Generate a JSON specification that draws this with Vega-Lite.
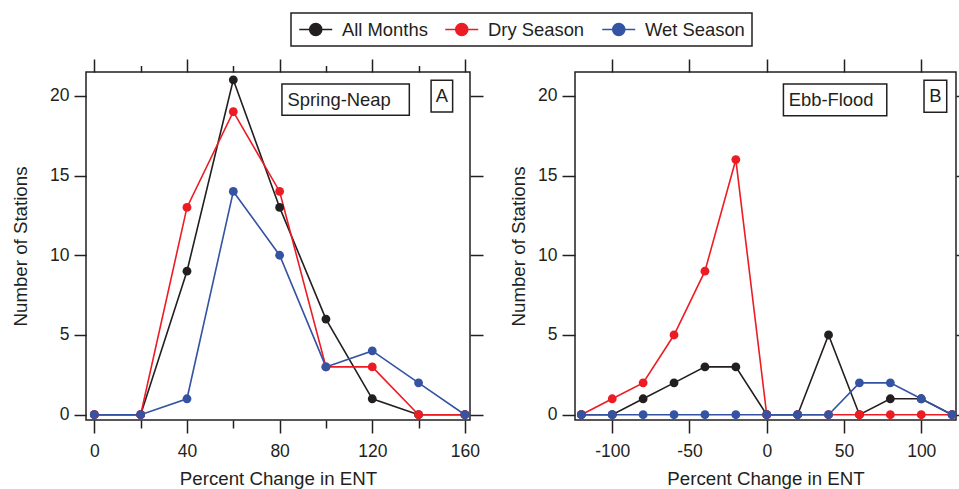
{
  "$schema": "https://vega.github.io/schema/vega-lite/v6.json",
  "padding": {"left": 10, "top": 12, "right": 0, "bottom": 0},
  "config": {
    "font": "Liberation Sans",
    "view": {"stroke": "#231f20", "strokeWidth": 1.5},
    "axis": {"domain": false, "grid": false, "tickColor": "#231f20", "tickWidth": 1.5, "labelColor": "#231f20", "labelFontSize": 17.5, "labelFont": "Liberation Sans", "titleFont": "Liberation Sans", "titleFontSize": 18.7, "titleFontWeight": "normal", "titleColor": "#231f20", "labelFlush": false, "labelOverlap": false},
    "legend": {"orient": "none", "legendX": 205, "legendY": -59, "direction": "horizontal", "columns": 3, "title": null, "labelFont": "Liberation Sans", "labelFontSize": 18.4, "labelColor": "#231f20", "labelOffset": 25, "columnPadding": 14, "padding": 7, "strokeColor": "#231f20", "fillColor": "white", "symbolType": "M-1,0H3M0.27,0A0.73,0.73,0,1,1,1.73,0A0.73,0.73,0,1,1,0.27,0Z", "symbolSize": 272, "symbolStrokeWidth": 1.6},
    "text": {"font": "Liberation Sans"}
  },
  "datasets": {
    "sn": [
      {"series": "All Months", "pct": 0, "n": 0}, {"series": "All Months", "pct": 20, "n": 0}, {"series": "All Months", "pct": 40, "n": 9}, {"series": "All Months", "pct": 60, "n": 21}, {"series": "All Months", "pct": 80, "n": 13}, {"series": "All Months", "pct": 100, "n": 6}, {"series": "All Months", "pct": 120, "n": 1}, {"series": "All Months", "pct": 140, "n": 0}, {"series": "All Months", "pct": 160, "n": 0},
      {"series": "Dry Season", "pct": 0, "n": 0}, {"series": "Dry Season", "pct": 20, "n": 0}, {"series": "Dry Season", "pct": 40, "n": 13}, {"series": "Dry Season", "pct": 60, "n": 19}, {"series": "Dry Season", "pct": 80, "n": 14}, {"series": "Dry Season", "pct": 100, "n": 3}, {"series": "Dry Season", "pct": 120, "n": 3}, {"series": "Dry Season", "pct": 140, "n": 0}, {"series": "Dry Season", "pct": 160, "n": 0},
      {"series": "Wet Season", "pct": 0, "n": 0}, {"series": "Wet Season", "pct": 20, "n": 0}, {"series": "Wet Season", "pct": 40, "n": 1}, {"series": "Wet Season", "pct": 60, "n": 14}, {"series": "Wet Season", "pct": 80, "n": 10}, {"series": "Wet Season", "pct": 100, "n": 3}, {"series": "Wet Season", "pct": 120, "n": 4}, {"series": "Wet Season", "pct": 140, "n": 2}, {"series": "Wet Season", "pct": 160, "n": 0}
    ],
    "ef": [
      {"series": "All Months", "pct": -120, "n": 0}, {"series": "All Months", "pct": -100, "n": 0}, {"series": "All Months", "pct": -80, "n": 1}, {"series": "All Months", "pct": -60, "n": 2}, {"series": "All Months", "pct": -40, "n": 3}, {"series": "All Months", "pct": -20, "n": 3}, {"series": "All Months", "pct": 0, "n": 0}, {"series": "All Months", "pct": 20, "n": 0}, {"series": "All Months", "pct": 40, "n": 5}, {"series": "All Months", "pct": 60, "n": 0}, {"series": "All Months", "pct": 80, "n": 1}, {"series": "All Months", "pct": 100, "n": 1}, {"series": "All Months", "pct": 120, "n": 0},
      {"series": "Dry Season", "pct": -120, "n": 0}, {"series": "Dry Season", "pct": -100, "n": 1}, {"series": "Dry Season", "pct": -80, "n": 2}, {"series": "Dry Season", "pct": -60, "n": 5}, {"series": "Dry Season", "pct": -40, "n": 9}, {"series": "Dry Season", "pct": -20, "n": 16}, {"series": "Dry Season", "pct": 0, "n": 0}, {"series": "Dry Season", "pct": 20, "n": 0}, {"series": "Dry Season", "pct": 40, "n": 0}, {"series": "Dry Season", "pct": 60, "n": 0}, {"series": "Dry Season", "pct": 80, "n": 0}, {"series": "Dry Season", "pct": 100, "n": 0}, {"series": "Dry Season", "pct": 120, "n": 0},
      {"series": "Wet Season", "pct": -120, "n": 0}, {"series": "Wet Season", "pct": -100, "n": 0}, {"series": "Wet Season", "pct": -80, "n": 0}, {"series": "Wet Season", "pct": -60, "n": 0}, {"series": "Wet Season", "pct": -40, "n": 0}, {"series": "Wet Season", "pct": -20, "n": 0}, {"series": "Wet Season", "pct": 0, "n": 0}, {"series": "Wet Season", "pct": 20, "n": 0}, {"series": "Wet Season", "pct": 40, "n": 0}, {"series": "Wet Season", "pct": 60, "n": 2}, {"series": "Wet Season", "pct": 80, "n": 2}, {"series": "Wet Season", "pct": 100, "n": 1}, {"series": "Wet Season", "pct": 120, "n": 0}
    ]
  },
  "spacing": 105,
  "bounds": "flush",
  "resolve": {"scale": {"color": "shared"}},
  "hconcat": [
    {
      "width": 384,
      "height": 348,
      "data": {"name": "sn"},
      "resolve": {"axis": {"x": "independent", "y": "independent"}},
      "layer": [
        {
          "mark": {"type": "line", "strokeWidth": 1.6},
          "encoding": {
            "x": {"field": "pct", "type": "quantitative", "scale": {"domain": [-3.6, 162.2], "nice": false, "zero": false}, "axis": {"orient": "bottom", "values": [0, 40, 80, 120, 160], "tickSize": 13, "labelPadding": 9, "title": "Percent Change in ENT", "titlePadding": 10}},
            "y": {"field": "n", "type": "quantitative", "scale": {"domain": [-0.33, 21.49], "nice": false, "zero": false}, "axis": {"orient": "left", "values": [0, 5, 10, 15, 20], "tickSize": 12, "labelPadding": 5, "title": "Number of Stations", "titlePadding": 19}},
            "color": {"field": "series", "type": "nominal", "scale": {"domain": ["All Months", "Dry Season", "Wet Season"], "range": ["#231f20", "#ed1c24", "#3553a3"]},
              "legend": {"encode": {"symbols": {"update": {"fill": {"scale": "color", "field": "value"}, "stroke": {"scale": "color", "field": "value"}, "shape": {"value": "M-1,0H3M0.27,0A0.73,0.73,0,1,1,1.73,0A0.73,0.73,0,1,1,0.27,0Z"}, "size": {"value": 272}, "strokeWidth": {"value": 1.6}, "opacity": {"value": 1}}}, "legend": {"update": {"strokeWidth": {"value": 1.5}}}}}}
          }
        },
        {
          "mark": {"type": "point", "filled": true, "size": 78, "opacity": 1},
          "encoding": {
            "x": {"field": "pct", "type": "quantitative", "scale": {"domain": [-3.6, 162.2], "nice": false, "zero": false}, "axis": {"orient": "bottom", "values": [20, 60, 100, 140], "tickSize": 8, "labels": false, "title": null}},
            "y": {"field": "n", "type": "quantitative", "scale": {"domain": [-0.33, 21.49], "nice": false, "zero": false}, "axis": {"orient": "right", "values": [0, 5, 10, 15, 20], "tickSize": 13, "labels": false, "title": null}},
            "color": {"field": "series", "type": "nominal", "scale": {"domain": ["All Months", "Dry Season", "Wet Season"], "range": ["#231f20", "#ed1c24", "#3553a3"]},
              "legend": {"encode": {"symbols": {"update": {"fill": {"scale": "color", "field": "value"}, "stroke": {"scale": "color", "field": "value"}, "shape": {"value": "M-1,0H3M0.27,0A0.73,0.73,0,1,1,1.73,0A0.73,0.73,0,1,1,0.27,0Z"}, "size": {"value": 272}, "strokeWidth": {"value": 1.6}, "opacity": {"value": 1}}}, "legend": {"update": {"strokeWidth": {"value": 1.5}}}}}}
          }
        },
        {
          "data": {"values": [{}]},
          "mark": {"type": "rect", "fill": "white", "stroke": "#231f20", "strokeWidth": 1.5},
          "encoding": {
            "x": {"datum": 81, "type": "quantitative", "scale": {"domain": [-3.6, 162.2], "nice": false, "zero": false}, "axis": {"orient": "top", "values": [0, 40, 80, 120, 160], "tickSize": 13, "labels": false, "title": null}},
            "x2": {"datum": 136},
            "y": {"datum": 20.74, "type": "quantitative", "scale": {"domain": [-0.33, 21.49], "nice": false, "zero": false}, "axis": null},
            "y2": {"datum": 18.78}
          }
        },
        {
          "data": {"values": [{}]},
          "mark": {"type": "text", "text": "Spring-Neap", "align": "left", "baseline": "middle", "fontSize": 18.4, "color": "#231f20"},
          "encoding": {
            "x": {"datum": 83.4, "type": "quantitative", "scale": {"domain": [-3.6, 162.2], "nice": false, "zero": false}, "axis": {"orient": "top", "values": [20, 60, 100, 140], "tickSize": 6.5, "labels": false, "title": null}},
            "y": {"datum": 19.76, "type": "quantitative", "scale": {"domain": [-0.33, 21.49], "nice": false, "zero": false}, "axis": null}
          }
        },
        {
          "data": {"values": [{}]},
          "mark": {"type": "rect", "fill": "white", "stroke": "#231f20", "strokeWidth": 1.5},
          "encoding": {
            "x": {"datum": 145.4, "type": "quantitative", "scale": {"domain": [-3.6, 162.2], "nice": false, "zero": false}, "axis": null},
            "x2": {"datum": 154.7},
            "y": {"datum": 20.97, "type": "quantitative", "scale": {"domain": [-0.33, 21.49], "nice": false, "zero": false}, "axis": null},
            "y2": {"datum": 18.98}
          }
        },
        {
          "data": {"values": [{}]},
          "mark": {"type": "text", "text": "A", "align": "center", "baseline": "middle", "fontSize": 18.4, "color": "#231f20"},
          "encoding": {
            "x": {"datum": 150.1, "type": "quantitative", "scale": {"domain": [-3.6, 162.2], "nice": false, "zero": false}, "axis": null},
            "y": {"datum": 19.98, "type": "quantitative", "scale": {"domain": [-0.33, 21.49], "nice": false, "zero": false}, "axis": null}
          }
        }
      ]
    },
    {
      "width": 381,
      "height": 348,
      "data": {"name": "ef"},
      "resolve": {"axis": {"x": "independent", "y": "independent"}},
      "layer": [
        {
          "mark": {"type": "line", "strokeWidth": 1.6},
          "encoding": {
            "x": {"field": "pct", "type": "quantitative", "scale": {"domain": [-124.1, 122.5], "nice": false, "zero": false}, "axis": {"orient": "bottom", "values": [-100, -50, 0, 50, 100], "labelExpr": "'' + datum.value", "tickSize": 13, "labelPadding": 9, "title": "Percent Change in ENT", "titlePadding": 10}},
            "y": {"field": "n", "type": "quantitative", "scale": {"domain": [-0.33, 21.49], "nice": false, "zero": false}, "axis": {"orient": "left", "values": [0, 5, 10, 15, 20], "tickSize": 13, "labelPadding": 5, "title": "Number of Stations", "titlePadding": 9}},
            "color": {"field": "series", "type": "nominal", "scale": {"domain": ["All Months", "Dry Season", "Wet Season"], "range": ["#231f20", "#ed1c24", "#3553a3"]},
              "legend": {"encode": {"symbols": {"update": {"fill": {"scale": "color", "field": "value"}, "stroke": {"scale": "color", "field": "value"}, "shape": {"value": "M-1,0H3M0.27,0A0.73,0.73,0,1,1,1.73,0A0.73,0.73,0,1,1,0.27,0Z"}, "size": {"value": 272}, "strokeWidth": {"value": 1.6}, "opacity": {"value": 1}}}, "legend": {"update": {"strokeWidth": {"value": 1.5}}}}}}
          }
        },
        {
          "mark": {"type": "point", "filled": true, "size": 78, "opacity": 1},
          "encoding": {
            "x": {"field": "pct", "type": "quantitative", "scale": {"domain": [-124.1, 122.5], "nice": false, "zero": false}, "axis": {"orient": "top", "values": [-100, -50, 0, 50, 100], "tickSize": 13, "labels": false, "title": null}},
            "y": {"field": "n", "type": "quantitative", "scale": {"domain": [-0.33, 21.49], "nice": false, "zero": false}, "axis": {"orient": "right", "values": [0, 5, 10, 15, 20], "tickSize": 13, "labels": false, "title": null}},
            "color": {"field": "series", "type": "nominal", "scale": {"domain": ["All Months", "Dry Season", "Wet Season"], "range": ["#231f20", "#ed1c24", "#3553a3"]},
              "legend": {"encode": {"symbols": {"update": {"fill": {"scale": "color", "field": "value"}, "stroke": {"scale": "color", "field": "value"}, "shape": {"value": "M-1,0H3M0.27,0A0.73,0.73,0,1,1,1.73,0A0.73,0.73,0,1,1,0.27,0Z"}, "size": {"value": 272}, "strokeWidth": {"value": 1.6}, "opacity": {"value": 1}}}, "legend": {"update": {"strokeWidth": {"value": 1.5}}}}}}
          }
        },
        {
          "data": {"values": [{}]},
          "mark": {"type": "rect", "fill": "white", "stroke": "#231f20", "strokeWidth": 1.5},
          "encoding": {
            "x": {"datum": 10.8, "type": "quantitative", "scale": {"domain": [-124.1, 122.5], "nice": false, "zero": false}, "axis": null},
            "x2": {"datum": 77.7},
            "y": {"datum": 20.74, "type": "quantitative", "scale": {"domain": [-0.33, 21.49], "nice": false, "zero": false}, "axis": null},
            "y2": {"datum": 18.74}
          }
        },
        {
          "data": {"values": [{}]},
          "mark": {"type": "text", "text": "Ebb-Flood", "align": "left", "baseline": "middle", "fontSize": 18.4, "color": "#231f20"},
          "encoding": {
            "x": {"datum": 14.2, "type": "quantitative", "scale": {"domain": [-124.1, 122.5], "nice": false, "zero": false}, "axis": null},
            "y": {"datum": 19.74, "type": "quantitative", "scale": {"domain": [-0.33, 21.49], "nice": false, "zero": false}, "axis": null}
          }
        },
        {
          "data": {"values": [{}]},
          "mark": {"type": "rect", "fill": "white", "stroke": "#231f20", "strokeWidth": 1.5},
          "encoding": {
            "x": {"datum": 101.8, "type": "quantitative", "scale": {"domain": [-124.1, 122.5], "nice": false, "zero": false}, "axis": null},
            "x2": {"datum": 116.5},
            "y": {"datum": 20.97, "type": "quantitative", "scale": {"domain": [-0.33, 21.49], "nice": false, "zero": false}, "axis": null},
            "y2": {"datum": 18.97}
          }
        },
        {
          "data": {"values": [{}]},
          "mark": {"type": "text", "text": "B", "align": "center", "baseline": "middle", "fontSize": 18.4, "color": "#231f20"},
          "encoding": {
            "x": {"datum": 109.1, "type": "quantitative", "scale": {"domain": [-124.1, 122.5], "nice": false, "zero": false}, "axis": null},
            "y": {"datum": 19.97, "type": "quantitative", "scale": {"domain": [-0.33, 21.49], "nice": false, "zero": false}, "axis": null}
          }
        }
      ]
    }
  ]
}
